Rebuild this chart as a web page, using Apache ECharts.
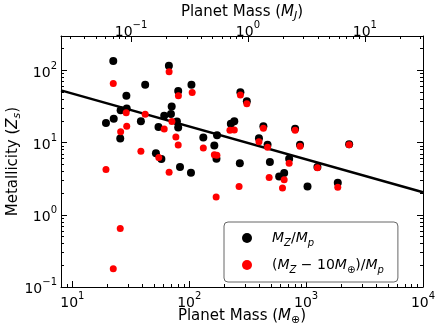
<!DOCTYPE html>
<html>
<head>
<meta charset="UTF-8">
<title>Metallicity vs planet mass</title>
<script src="https://cdn.jsdelivr.net/npm/echarts@6/dist/echarts.min.js"></script>
<style>
html, body { margin: 0; padding: 0; background: #fff; }
#chart { width: 436px; height: 327px; }
</style>
</head>
<body>
<div id="chart"></div>
<script>
// planet masses in Earth masses, metallicities
var massBlack = [22.4, 42.0, 29.0, 29.2, 25.9, 22.6, 19.4, 38.6, 54.6, 67.0, 80.5, 70.8, 61.1, 69.8, 78.5, 80.5, 25.7, 51.9, 57.8, 83.4, 103.5, 104.5, 274, 311, 227, 243, 431, 132, 173, 164, 171, 395, 468, 805, 887, 716, 271, 490, 1250, 588, 649, 1028, 1866, 2334];
var zBlack = [135, 63.5, 44.6, 29.6, 28.1, 21.5, 18.7, 19.8, 16.5, 116, 51.9, 31.6, 23.5, 24.9, 19.6, 16.2, 11.4, 7.1, 5.94, 4.6, 3.83, 63.5, 50.0, 37.3, 18.2, 19.7, 16.8, 11.8, 12.7, 9.14, 6.0, 11.5, 9.38, 15.6, 9.38, 5.96, 5.19, 5.4, 4.6, 3.4, 3.8, 2.47, 2.78, 9.53];
var massRed = [22.4, 28.9, 42.0, 29.2, 25.9, 67.3, 80.8, 61.1, 71.1, 76.9, 80.5, 38.6, 54.9, 19.4, 106, 274, 311, 223, 243, 431, 132, 164, 172.5, 395, 468, 805, 887, 716, 1250, 483, 649, 1866, 2334, 267, 628, 67.3, 170, 25.7, 22.4];
var zRed = [65.9, 25.9, 24.7, 16.8, 14.1, 96.2, 44.6, 15.5, 19.6, 12.0, 9.3, 7.62, 6.22, 4.26, 49.4, 45.7, 34.6, 14.9, 15.0, 15.8, 8.43, 6.81, 6.7, 10.3, 8.6, 14.9, 8.9, 5.19, 4.5, 3.3, 3.06, 2.41, 9.38, 2.47, 2.35, 3.89, 1.77, 0.645, 0.179];

// fitted trend line, its two ends
var fitMass = [8, 10000];
var fitZ = [53, 2.05];

var xTicks = [10, 100, 1000, 10000];
var yTicks = [0.1, 1, 10, 100];
var topTicks = [0.1, 1, 10];
var xRange = [8, 10000];
var yRange = [0.1, 300];
var MJ = 317.8; // Earth masses in one Jupiter mass

var lg = Math.log10;
var FONT = 'DejaVu Sans';

function minorTicks(lo, hi) {
    var out = [];
    for (var e = Math.floor(lg(lo)); e <= Math.ceil(lg(hi)); e++) {
        for (var k = 2; k <= 9; k++) {
            var v = k * Math.pow(10, e);
            if (v > lo && v < hi) out.push(lg(v));
        }
    }
    return out;
}

function powLabel(v) {
    var n = Math.round(v);
    return '{b|10}{s|' + (n < 0 ? '\u2212' + (-n) : n) + '}';
}

var tickRich = {
    b: { fontFamily: FONT, fontSize: 14, color: '#000', lineHeight: 19, verticalAlign: 'bottom' },
    s: { fontFamily: FONT, fontSize: 10, color: '#000', lineHeight: 10, verticalAlign: 'top' }
};
var nameRich = {
    n: { fontFamily: FONT, fontSize: 15, color: '#000' },
    i: { fontFamily: FONT, fontSize: 15, fontStyle: 'italic', color: '#000' },
    sub: { fontFamily: FONT, fontSize: 11, fontStyle: 'italic', color: '#000', verticalAlign: 'bottom', padding: [0, 0, -2, 0] },
    subn: { fontFamily: FONT, fontSize: 11, color: '#000', verticalAlign: 'bottom', padding: [0, 0, -2, 0] }
};

function axis(o) {
    var a = {
        type: 'value',
        gridIndex: o.grid,
        position: o.pos,
        min: o.min,
        max: o.max,
        splitLine: { show: false },
        axisLine: { show: !!o.line, onZero: false, lineStyle: { color: '#000', width: 1 } },
        axisTick: { show: true, inside: true, length: o.len, customValues: o.ticks, lineStyle: { color: '#000', width: 1 } },
        axisLabel: { show: false }
    };
    if (o.labels) {
        a.axisLabel = { show: true, customValues: o.labels, formatter: powLabel, margin: o.margin, rich: tickRich };
        if (o.valign) a.axisLabel.verticalAlign = o.valign;
    }
    if (o.name) {
        a.name = o.name;
        a.nameLocation = 'middle';
        a.nameGap = o.gap;
        a.nameRotate = o.rot;
        a.nameMoveOverlap = false;
        a.nameTextStyle = { rich: nameRich };
    }
    return a;
}

var gridBox = { left: 61, right: 13, top: 36, bottom: 40, containLabel: false, outerBoundsMode: 'none' };
var grids = [0, 1, 2, 3].map(function () { return Object.assign({}, gridBox); });

var xLo = lg(xRange[0]), xHi = lg(xRange[1]);
var yLo = lg(yRange[0]), yHi = lg(yRange[1]);
var jLo = lg(xRange[0] / MJ), jHi = lg(xRange[1] / MJ);

var xAxes = [
    axis({ grid: 0, pos: 'bottom', min: xLo, max: xHi, line: true, len: 6, ticks: xTicks.map(lg), labels: xTicks.map(lg), margin: 4,
        name: '{n|Planet Mass (}{i|M}{subn|\u2295}{n|)}', gap: 22 }),
    axis({ grid: 1, pos: 'bottom', min: xLo, max: xHi, len: 3, ticks: minorTicks(xRange[0], xRange[1]) }),
    axis({ grid: 2, pos: 'top', min: jLo, max: jHi, line: true, len: 6, ticks: topTicks.map(lg), labels: topTicks.map(lg), margin: 6, valign: 'middle',
        name: '{n|Planet Mass (}{i|M}{sub|J}{n|)}', gap: 16 }),
    axis({ grid: 3, pos: 'top', min: jLo, max: jHi, len: 3, ticks: minorTicks(xRange[0] / MJ, xRange[1] / MJ) })
];
var yAxes = [
    axis({ grid: 0, pos: 'left', min: yLo, max: yHi, line: true, len: 6, ticks: yTicks.map(lg), labels: yTicks.map(lg), margin: 4,
        name: '{n|Metallicity (}{i|Z}{sub|s}{n|)}', gap: 40, rot: 90 }),
    axis({ grid: 1, pos: 'left', min: yLo, max: yHi, len: 3, ticks: minorTicks(yRange[0], yRange[1]) }),
    axis({ grid: 2, pos: 'right', min: yLo, max: yHi, line: true, len: 6, ticks: yTicks.map(lg) }),
    axis({ grid: 3, pos: 'right', min: yLo, max: yHi, len: 3, ticks: minorTicks(yRange[0], yRange[1]) })
];

function pairs(xs, ys) {
    return xs.map(function (x, i) { return [lg(x), lg(ys[i])]; });
}

var nameBlack = 'MZ/Mp';
var nameRed = '(MZ-10ME)/Mp';
var legendText = {};
legendText[nameBlack] = '{sp|}{i|M}{sub|Z}{n|/}{i|M}{sub|p}';
legendText[nameRed] = '{sp|}{n|(}{i|M}{sub|Z}{n| \u2212 10}{i|M}{subn|\u2295}{n|)/}{i|M}{sub|p}';

var legendRich = {
    sp: { width: 15 },
    n: { fontFamily: FONT, fontSize: 14, color: '#000' },
    i: { fontFamily: FONT, fontSize: 14, fontStyle: 'italic', color: '#000' },
    sub: { fontFamily: FONT, fontSize: 10, fontStyle: 'italic', color: '#000', verticalAlign: 'bottom', padding: [0, 0, -1, 0] },
    subn: { fontFamily: FONT, fontSize: 10, color: '#000', verticalAlign: 'bottom', padding: [0, 0, -1, 0] }
};

var chart = echarts.init(document.getElementById('chart'));
chart.setOption({
    animation: false,
    backgroundColor: '#fff',
    grid: grids,
    xAxis: xAxes,
    yAxis: yAxes,
    legend: {
        data: [nameBlack, nameRed],
        orient: 'vertical',
        left: 224,
        top: 222,
        padding: [7, 14, 7, 18],
        itemGap: 8,
        itemWidth: 10,
        itemHeight: 10,
        icon: 'circle',
        borderColor: '#666',
        borderWidth: 1,
        borderRadius: 4,
        backgroundColor: '#fff',
        formatter: function (name) { return legendText[name]; },
        textStyle: { rich: legendRich, lineHeight: 18 }
    },
    series: [
        {
            type: 'line',
            xAxisIndex: 0, yAxisIndex: 0,
            data: pairs(fitMass, fitZ),
            symbol: 'none',
            lineStyle: { color: '#000', width: 2.5 },
            silent: true,
            z: 1
        },
        {
            name: nameBlack,
            type: 'scatter',
            xAxisIndex: 0, yAxisIndex: 0,
            data: pairs(massBlack, zBlack),
            symbolSize: 8,
            itemStyle: { color: '#000', opacity: 1 },
            z: 2
        },
        {
            name: nameRed,
            type: 'scatter',
            xAxisIndex: 0, yAxisIndex: 0,
            data: pairs(massRed, zRed),
            symbolSize: 7,
            itemStyle: { color: '#ff0000', opacity: 1 },
            z: 3
        }
    ]
});
</script>
</body>
</html>
